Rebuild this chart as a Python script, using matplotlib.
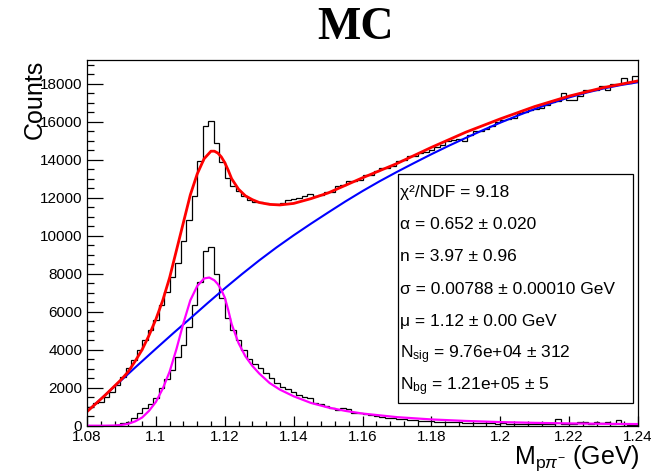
"""MC fit of the p pi- invariant mass: histogram, signal-only histogram and fit curves."""

import matplotlib
matplotlib.use("Agg")
import matplotlib.pyplot as plt
import numpy as np
from matplotlib.ticker import MultipleLocator, FuncFormatter

plt.rcParams["font.family"] = ["Liberation Sans", "DejaVu Sans"]
plt.rcParams["mathtext.fontset"] = "custom"
plt.rcParams["mathtext.rm"] = "Liberation Sans"
plt.rcParams["mathtext.it"] = "Liberation Sans:italic"
plt.rcParams["mathtext.bf"] = "Liberation Sans:bold"

# histogram range: 100 bins between 1.08 and 1.24 GeV
x_lo, x_hi, n_bins = 1.08, 1.24, 100

total_counts = [
    1000, 1180, 1270, 1530, 1790, 2140, 2580, 3020, 3460, 3990,
    4520, 5040, 5570, 6360, 7060, 7850, 8590, 9700, 10840, 12070,
    13920, 15760, 16060, 14880, 13860, 13040, 12630, 12370, 12110, 11860,
    11800, 11750, 11700, 11650, 11650, 11700, 11860, 11930, 11985, 12070,
    12200, 12070, 12160, 12280, 12280, 12630, 12690, 12860, 12860, 12950,
    13210, 13210, 13390, 13570, 13570, 13690, 13920, 13970, 14180, 14180,
    14360, 14390, 14500, 14670, 14800, 14970, 15060, 15110, 15010, 15320,
    15500, 15500, 15620, 15760, 15970, 16080, 16150, 16200, 16470, 16500,
    16610, 16680, 16730, 16900, 17030, 17080, 17520, 17130, 17130, 17340,
    17660, 17660, 17690, 17900, 17690, 18010, 18010, 18310, 18050, 18400,
]

signal_counts = [
    0, 0, 0, 0, 10, 40, 120, 210, 390, 650,
    910, 1140, 1440, 1970, 2440, 2930, 3600, 4250, 5220, 6360,
    7590, 9220, 9400, 8000, 6700, 5660, 5040, 4520, 3990, 3500,
    3260, 3020, 2760, 2500, 2250, 2060, 1920, 1790, 1620, 1530,
    1440, 1210, 1140, 1060, 915, 830, 915, 860, 690, 650,
    600, 560, 520, 480, 430, 400, 370, 330, 300, 290,
    270, 250, 260, 220, 200, 210, 180, 170, 160, 150,
    140, 160, 130, 120, 110, 130, 100, 110, 90, 100,
    90, 80, 100, 90, 80, 350, 90, 80, 70, 200,
    180, 100, 200, 150, 190, 100, 300, 80, 60, 20,
]

# background fit (blue)
bg_x = [1.080, 1.085, 1.090, 1.095, 1.100, 1.105, 1.110, 1.115, 1.120, 1.125,
        1.130, 1.135, 1.140, 1.145, 1.150, 1.155, 1.160, 1.165, 1.170, 1.175,
        1.180, 1.185, 1.190, 1.195, 1.200, 1.205, 1.210, 1.215, 1.220, 1.225,
        1.230, 1.235, 1.240]
bg_y = [740, 1570, 2400, 3230, 4050, 4860, 5650, 6450, 7230, 7980,
        8700, 9380, 10020, 10630, 11220, 11800, 12350, 12870, 13360, 13830,
        14290, 14730, 15150, 15560, 15950, 16320, 16670, 16990, 17280, 17530,
        17750, 17930, 18080]

# signal fit (magenta)
sig_x = [1.080, 1.085, 1.088, 1.090, 1.092, 1.094, 1.096, 1.098, 1.100, 1.102,
         1.104, 1.106, 1.108, 1.110, 1.112, 1.114, 1.1155, 1.117, 1.118, 1.119,
         1.120, 1.121, 1.122, 1.124, 1.126, 1.128, 1.130, 1.133, 1.136, 1.140,
         1.145, 1.150, 1.155, 1.160, 1.170, 1.180, 1.190, 1.200, 1.210, 1.220,
         1.230, 1.240]
sig_y = [0, 0, 10, 40, 100, 230, 430, 780, 1250, 1950,
         2850, 4050, 5400, 6600, 7350, 7750, 7800, 7650, 7450, 7150,
         6750, 6100, 5350, 4350, 3650, 3150, 2750, 2250, 1900, 1550,
         1200, 960, 780, 640, 450, 330, 250, 190, 150, 120,
         100, 85]

# total fit (red)
tot_x = [1.080, 1.085, 1.090, 1.092, 1.094, 1.096, 1.098, 1.100, 1.102, 1.104,
         1.106, 1.108, 1.110, 1.112, 1.114, 1.116, 1.117, 1.118, 1.119, 1.120,
         1.121, 1.122, 1.124, 1.126, 1.128, 1.130, 1.133, 1.136, 1.140, 1.145,
         1.150, 1.155, 1.160, 1.170, 1.180, 1.190, 1.200, 1.210, 1.220, 1.230,
         1.240]
tot_y = [740, 1560, 2440, 2850, 3400, 4000, 4750, 5600, 6600, 7800,
         9250, 10700, 12150, 13250, 14050, 14450, 14450, 14350, 14150, 13850,
         13450, 13000, 12450, 12100, 11900, 11750, 11650, 11620, 11700, 11950,
         12250, 12650, 13050, 13800, 14650, 15450, 16150, 16800, 17350, 17800,
         18150]

stats_lines = [
    "χ²/NDF = 9.18",
    "α = 0.652 ± 0.020",
    "n = 3.97 ± 0.96",
    "σ = 0.00788 ± 0.00010 GeV",
    "μ = 1.12 ± 0.00 GeV",
    r"N$_{\mathrm{sig}}$ = 9.76e+04 ± 312",
    r"N$_{\mathrm{bg}}$ = 1.21e+05 ± 5",
]


def main():
    W, H = 651, 472
    fig = plt.figure(figsize=(W / 100, H / 100), dpi=100)
    ax = fig.add_axes([87 / W, 1 - 425.7 / H, (638 - 87) / W, (425.7 - 60) / H])

    edges = np.linspace(x_lo, x_hi, n_bins + 1)
    ax.stairs(total_counts, edges, color="black", lw=0.9, baseline=None)
    ax.stairs(signal_counts, edges, color="black", lw=0.9, baseline=None)

    ax.plot(bg_x, bg_y, color="#0000ff", lw=1.5)
    ax.plot(sig_x, sig_y, color="#ff00ff", lw=1.6)
    ax.plot(tot_x, tot_y, color="#ff0000", lw=2.0)

    ax.set_xlim(x_lo, x_hi)
    ax.set_ylim(0, 19250)

    ax.xaxis.set_major_locator(MultipleLocator(0.02))
    ax.xaxis.set_minor_locator(MultipleLocator(0.004))
    ax.yaxis.set_major_locator(MultipleLocator(2000))
    ax.yaxis.set_minor_locator(MultipleLocator(500))
    ax.xaxis.set_major_formatter(FuncFormatter(lambda v, p: f"{v:g}"))
    ax.yaxis.set_major_formatter(FuncFormatter(lambda v, p: f"{v:g}"))

    ax.tick_params(axis="both", which="both", direction="in", top=False, right=False,
                   labelsize=11, width=0.9)
    ax.tick_params(axis="y", which="major", length=11.5, pad=3.5)
    ax.tick_params(axis="y", which="minor", length=5)
    ax.tick_params(axis="x", which="major", length=7, pad=3)
    ax.tick_params(axis="x", which="minor", length=3.6)
    for s in ax.spines.values():
        s.set_linewidth(0.9)

    # stats box
    bx0, bx1, by0, by1 = 398, 633, 174.3, 402.7
    box = plt.Rectangle((bx0 / W, 1 - by1 / H), (bx1 - bx0) / W, (by1 - by0) / H,
                        transform=fig.transFigure, facecolor="white",
                        edgecolor="black", lw=0.9, zorder=5)
    fig.add_artist(box)
    line_y = [192.7, 224.3, 256.6, 289.9, 321.9, 354.5, 386.7]
    for txt, yy in zip(stats_lines, line_y):
        fig.text(400 / W, 1 - yy / H, txt, fontsize=12.5, ha="left", va="center",
                 zorder=6)

    fig.text(356 / W, 1 - 28 / H, "MC", fontsize=33, fontweight="bold",
             family="Liberation Serif", ha="center", va="center")
    fig.text(35 / W, 1 - 60 / H, "Counts", fontsize=18, rotation=90,
             ha="center", va="top")
    fig.text(640 / W, 1 - 458 / H, r"M$_{\mathrm{p}π^{-}}$ (GeV)", fontsize=18,
             ha="right", va="center")

    fig.savefig("out.png", dpi=100)


if __name__ == "__main__":
    main()
